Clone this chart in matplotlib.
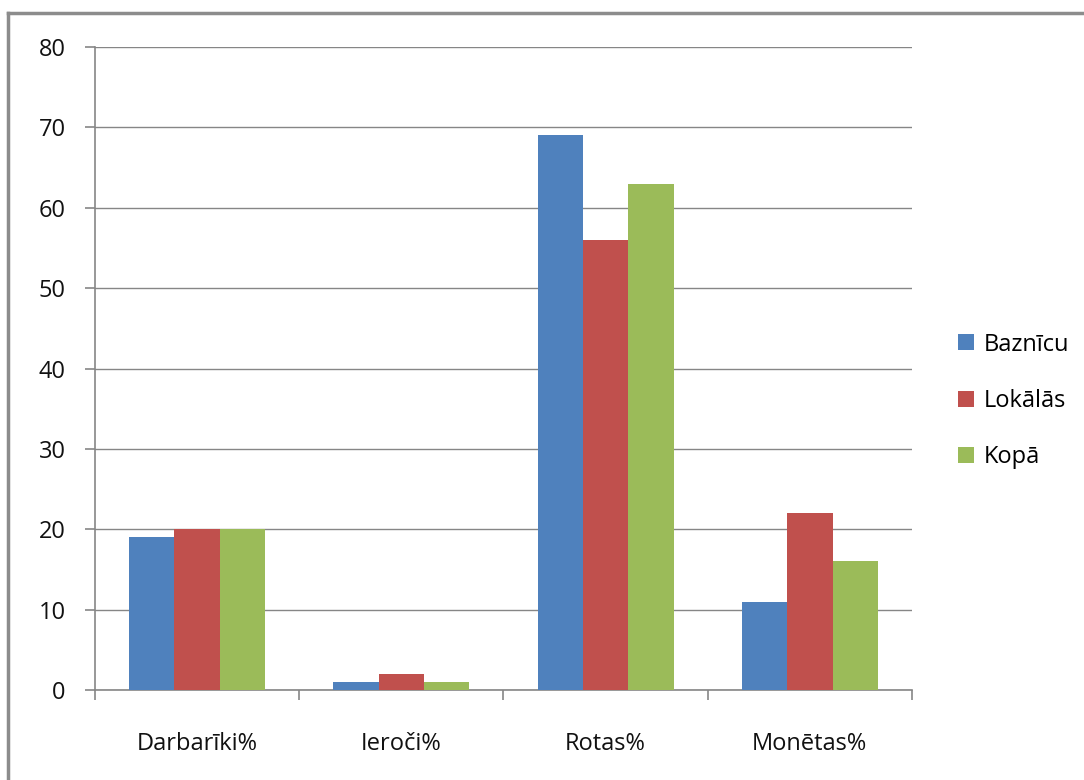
import matplotlib as mpl
mpl.use('Agg')
import matplotlib.pyplot as plt
from matplotlib.lines import Line2D
import numpy as np

plt.rcParams['font.family'] = ['Open Sans', 'DejaVu Sans']
plt.rcParams['font.size'] = 17

categories = ['Darbarīki%', 'Ieroči%', 'Rotas%', 'Monētas%']
series = ['Baznīcu', 'Lokālās', 'Kopā']
baznicu = [19, 1, 69, 11]
lokalas = [20, 2, 56, 22]
kopa = [20, 1, 63, 16]
colors = ['#4F81BD', '#C0504D', '#9BBB59']

fig = plt.figure(figsize=(10.84, 7.80), dpi=100)
ax = fig.add_axes([95/1084, 90/780, 817/1084, 643/780])

x = np.arange(len(categories))
w = 1 / 4.5
for i, (vals, name) in enumerate(zip([baznicu, lokalas, kopa], series)):
    ax.bar(x + (i - 1) * w, vals, w, color=colors[i], label=name, zorder=3)

gray = '#868686'
ax.set_xlim(-0.5, len(categories) - 0.5)
ax.set_ylim(0, 80)
ax.set_yticks(range(0, 81, 10))
ax.yaxis.grid(True, color=gray, linewidth=1, zorder=0)
for s in ['top', 'right']:
    ax.spines[s].set_visible(False)
for s in ['left', 'bottom']:
    ax.spines[s].set_color(gray)
    ax.spines[s].set_linewidth(1.2)

ax.set_xticks(np.arange(len(categories) + 1) - 0.5)
ax.set_xticklabels([])
ax.set_xticks(x, minor=True)
ax.set_xticklabels(categories, minor=True)
ax.tick_params(axis='x', which='major', length=7, color=gray, width=1.2)
ax.tick_params(axis='x', which='minor', length=0, pad=30)
ax.tick_params(axis='y', length=7, color=gray, width=1.2, pad=14)
for lab in ax.get_yticklabels() + ax.get_xticklabels(minor=True):
    lab.set_color('#111111')

leg = fig.legend(loc='center left', bbox_to_anchor=(937/1084, 1 - 401/780),
                 frameon=False, handlelength=0.65, handleheight=0.65,
                 handletextpad=0.45, labelspacing=1.37)

# outer chart frame
fig.add_artist(Line2D([8/1084, 1], [1 - 13/780] * 2, color='#8c8c8c', linewidth=2.5))
fig.add_artist(Line2D([8/1084] * 2, [0, 1 - 13/780], color='#8c8c8c', linewidth=2.5))

plt.savefig('out.png')
plt.close()
